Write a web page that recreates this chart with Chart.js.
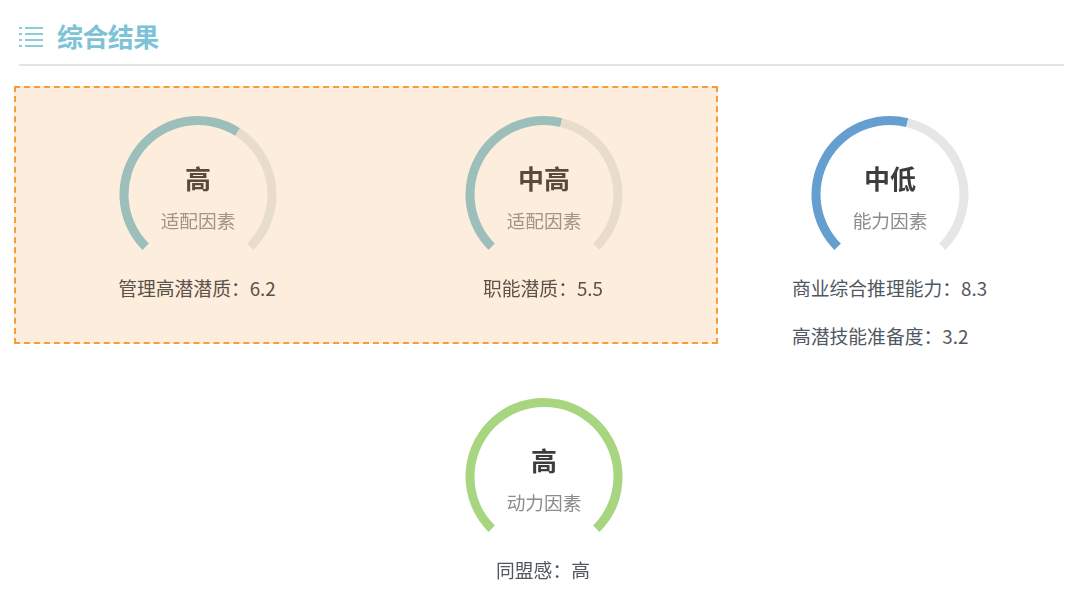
<!DOCTYPE html>
<html>
<head>
<meta charset="utf-8">
<script src="https://cdn.jsdelivr.net/npm/chart.js@4/dist/chart.umd.min.js"></script>
<style>
  html, body { margin: 0; padding: 0; background: #fff; }
  body { width: 1080px; height: 603px; position: relative; overflow: hidden;
    font-family: "Noto Sans CJK SC", "Noto Sans", sans-serif; }
  .abs { position: absolute; }
  .title { left: 57px; top: 17px; font-size: 26px; line-height: 38px; font-weight: 700; color: #7cc3d8; letter-spacing: -0.6px; }
  .rule { left: 19px; top: 64px; width: 1045px; height: 2px; background: #e4e4e4; }
  .panel { left: 14px; top: 86px; width: 700px; height: 254px; background: #fdeddd; border: 2px dashed #f69d3a; }
  .txt { white-space: nowrap; }
  .center { transform: translateX(-50%); text-align: center; }
  .level { font-size: 26px; line-height: 34px; font-weight: 700; }
  .factor { font-size: 18.7px; line-height: 24px; }
  .score { font-size: 18.8px; line-height: 26px; }
  canvas { position: absolute; }
</style>
</head>
<body>
<svg class="abs" style="left:19px;top:26px" width="26" height="22" fill="#8ecbde">
  <rect x="0" y="1" width="3" height="2"/><rect x="6" y="1" width="18" height="2"/>
  <rect x="0" y="7" width="3" height="2"/><rect x="6" y="7" width="18" height="2"/>
  <rect x="0" y="13" width="3" height="2"/><rect x="6" y="13" width="18" height="2"/>
  <rect x="0" y="19" width="3" height="2"/><rect x="6" y="19" width="18" height="2"/>
</svg>
<div class="abs title">综合结果</div>
<div class="abs rule"></div>
<div class="abs panel"></div>
<div id="gauges"></div>

<script>
var levels = ["高", "中高", "中低", "高"];
var factors = ["适配因素", "适配因素", "能力因素", "动力因素"];
var filled = [6.2, 5.5, 5.5, 10];
var rest = [3.8, 4.5, 4.5, 0];
var scores = [
  ["管理高潜潜质：6.2"],
  ["职能潜质：5.5"],
  ["商业综合推理能力：8.3", "高潜技能准备度：3.2"],
  ["同盟感：高"]
];

var arcColors = ["#9dbfbc", "#9dbfbc", "#659fcf", "#a7d580"];
var trackColors = ["#e8dccd", "#e8dccd", "#e6e6e6", "#e6e6e6"];
var levelColors = ["#5b4a3c", "#5b4a3c", "#3d3d3d", "#3d3d3d"];
var factorColors = ["#a39488", "#a39488", "#8c8c8c", "#8c8c8c"];
var scoreColors = ["#5a5148", "#5a5148", "#50575f", "#50575f"];
var centerX = [198, 544, 890, 544];
var centerY = [194, 194, 194, 476];

var box = document.getElementById("gauges");

function addText(cls, text, x, y, color) {
  var d = document.createElement("div");
  d.className = "abs txt " + cls;
  d.textContent = text;
  d.style.left = x + "px";
  d.style.top = y + "px";
  d.style.color = color;
  box.appendChild(d);
  return d;
}

for (var i = 0; i < levels.length; i++) {
  var c = document.createElement("canvas");
  c.width = 180;
  c.height = 180;
  c.style.left = (centerX[i] - 90.5) + "px";
  // doughnut is shifted down by chart.js because of the open bottom
  c.style.top = (centerY[i] - 90 - 11) + "px";
  box.appendChild(c);

  new Chart(c, {
    type: "doughnut",
    data: {
      labels: ["score", "rest"],
      datasets: [{
        data: [filled[i], rest[i]],
        backgroundColor: [arcColors[i], trackColors[i]],
        borderWidth: 0
      }]
    },
    options: {
      responsive: false,
      animation: false,
      rotation: -135,
      circumference: 270,
      radius: 78.5,
      cutout: "88.5%",
      plugins: { legend: { display: false }, tooltip: { enabled: false } }
    }
  });

  addText("center level", levels[i], centerX[i], centerY[i] - 33, levelColors[i]);
  addText("center factor", factors[i], centerX[i], centerY[i] + 14, factorColors[i]);
  for (var j = 0; j < scores[i].length; j++) {
    if (i == 2) {
      // the two lines of this block share a left edge
      addText("score", scores[i][j], 792, centerY[i] + 81 + j * 48, scoreColors[i]);
    } else {
      addText("center score", scores[i][j], centerX[i] - 1, centerY[i] + 81, scoreColors[i]);
    }
  }
}
</script>
</body>
</html>
